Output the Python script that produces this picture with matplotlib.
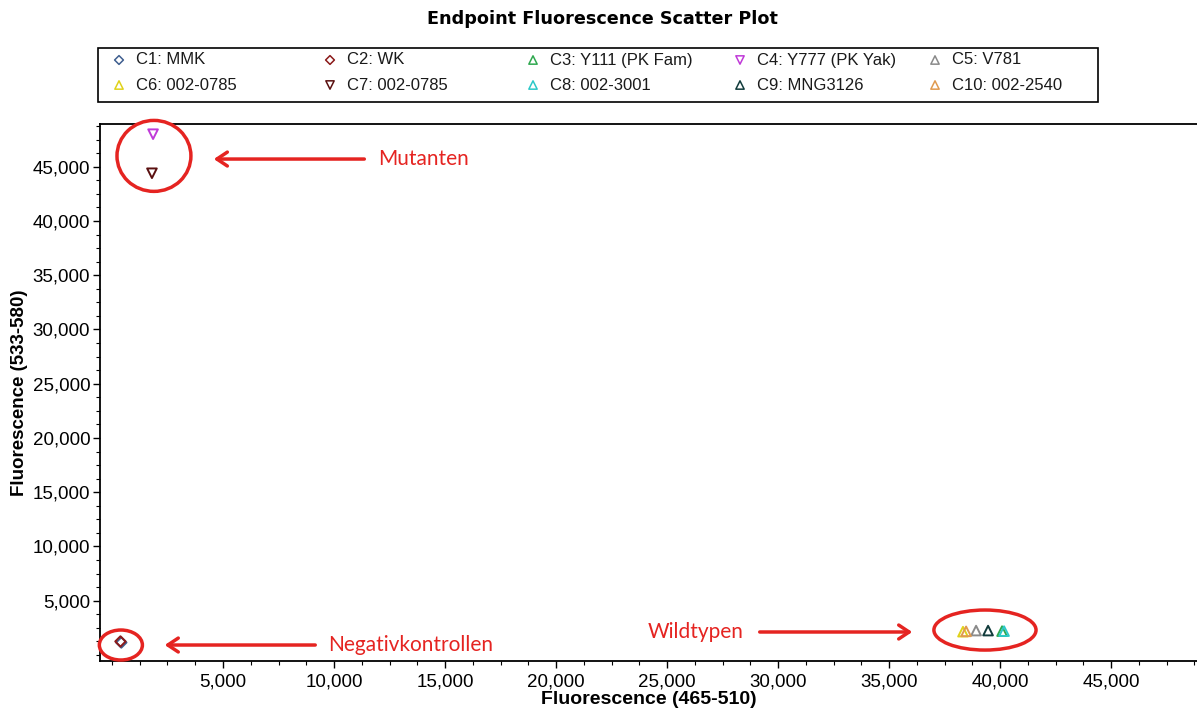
import numpy as np
import matplotlib
matplotlib.use('Agg')
from matplotlib import pyplot as plt
from matplotlib.patches import Ellipse, Rectangle
from matplotlib.ticker import FixedLocator, MultipleLocator, FuncFormatter

'''sample data: endpoint fluorescence per well'''
names = ['C1: MMK', 'C2: WK', 'C3: Y111 (PK Fam)', 'C4: Y777 (PK Yak)', 'C5: V781',
         'C6: 002-0785', 'C7: 002-0785', 'C8: 002-3001', 'C9: MNG3126', 'C10: 002-2540']
fam = [420, 380, 40090, 1850, 38920, 38330, 1800, 40180, 39460, 38470]      # 465-510
yak = [1150, 1250, 2200, 48000, 2250, 2150, 44400, 2200, 2250, 2180]       # 533-580
colors = ['#3f5f8f', '#8b1a1a', '#2fa84f', '#c03ad8', '#8a8a8a',
          '#e0d21a', '#5a1010', '#2cc8c8', '#123c3c', '#e09a50']
markers = ['D', 'D', '^', 'v', '^', '^', 'v', '^', '^', '^']

xticks = [5000, 10000, 15000, 20000, 25000, 30000, 35000, 40000, 45000]
yticks = [5000, 10000, 15000, 20000, 25000, 30000, 35000, 40000, 45000]

red = '#e52421'
plt.rcParams['font.family'] = ['Liberation Sans', 'DejaVu Sans']

fig = plt.figure(figsize=(11.97, 7.11), dpi=100)
ax = fig.add_axes([100/1197, 50/711, 1097/1197, 537/711])
ax.set_xlim(-540, 48870)
ax.set_ylim(-553, 48940)

for i in range(len(names)):
    ax.scatter(fam[i], yak[i], marker=markers[i], s=48 if markers[i] != 'D' else 28,
               facecolors='none', edgecolors=colors[i], linewidths=1.4, zorder=4)

'''axes styling'''
ax.spines['right'].set_visible(False)
for s in ['left', 'bottom', 'top']:
    ax.spines[s].set_linewidth(1.3)
ax.xaxis.set_major_locator(FixedLocator(xticks))
ax.yaxis.set_major_locator(FixedLocator(yticks))
ax.xaxis.set_minor_locator(MultipleLocator(1250))
ax.yaxis.set_minor_locator(MultipleLocator(1250))
fmt = FuncFormatter(lambda v, p: '{:,.0f}'.format(v))
ax.xaxis.set_major_formatter(fmt)
ax.yaxis.set_major_formatter(fmt)
ax.tick_params(which='major', direction='out', length=5, width=1, labelsize=13.5, pad=2)
ax.tick_params(axis='x', which='major', pad=4)
ax.tick_params(which='minor', direction='out', length=3, width=0.8)
ax.set_xlabel('Fluorescence (465-510)', fontsize=14, fontweight='bold', labelpad=0)
ax.set_ylabel('Fluorescence (533-580)', fontsize=13.5, fontweight='bold', labelpad=3)

fig.text(602/1197, 1 - 19/711, 'Endpoint Fluorescence Scatter Plot', ha='center', va='center',
         fontsize=12.7, fontweight='bold', family='DejaVu Sans')

'''legend box drawn by hand, 5 columns x 2 rows'''
lax = fig.add_axes([0, 0, 1, 1], facecolor='none')
lax.set_xlim(0, 1197)
lax.set_ylim(711, 0)
lax.axis('off')
lax.add_patch(Rectangle((98, 48), 1000, 54, fill=False, edgecolor='black', lw=1.2))
col_x = [119, 330, 533, 740, 935]
row_y = [60, 85]
for i in range(len(names)):
    cx, cy = col_x[i % 5], row_y[i // 5]
    lax.scatter(cx, cy, marker=markers[i], s=36 if markers[i] != 'D' else 20,
                facecolors='none', edgecolors=colors[i], linewidths=1.1)
    lax.text(cx + 17, cy, names[i], ha='left', va='center', fontsize=12, color='#1a1a1a')

'''annotations'''
ann_font = dict(color=red, fontsize=15, family=['Lato', 'DejaVu Sans'], va='center')
arrow = dict(arrowstyle='->,head_length=0.75,head_width=0.5', color=red, lw=2.5)

ax.add_patch(Ellipse((1890, 46000), 3330, 6540, facecolor='white', edgecolor=red,
                     lw=2.5, clip_on=False, zorder=3))
ax.annotate('', xy=(4460, 45710), xytext=(11490, 45710), arrowprops=arrow)
ax.text(12000, 45710, 'Mutanten', **ann_font)

ax.add_patch(Ellipse((400, 920), 1940, 2765, fill=False, edgecolor=red, lw=2.5,
                     clip_on=False, zorder=3))
ax.annotate('', xy=(2250, 920), xytext=(9280, 920), arrowprops=arrow)
ax.text(9730, 920, 'Negativkontrollen', **ann_font)

ax.add_patch(Ellipse((39320, 2300), 4600, 3690, fill=False, edgecolor=red, lw=2.5,
                     clip_on=False, zorder=3))
ax.annotate('', xy=(36170, 2120), xytext=(29050, 2120), arrowprops=arrow)
ax.text(24140, 2120, 'Wildtypen', **ann_font)

plt.savefig('out.png', dpi=100)
